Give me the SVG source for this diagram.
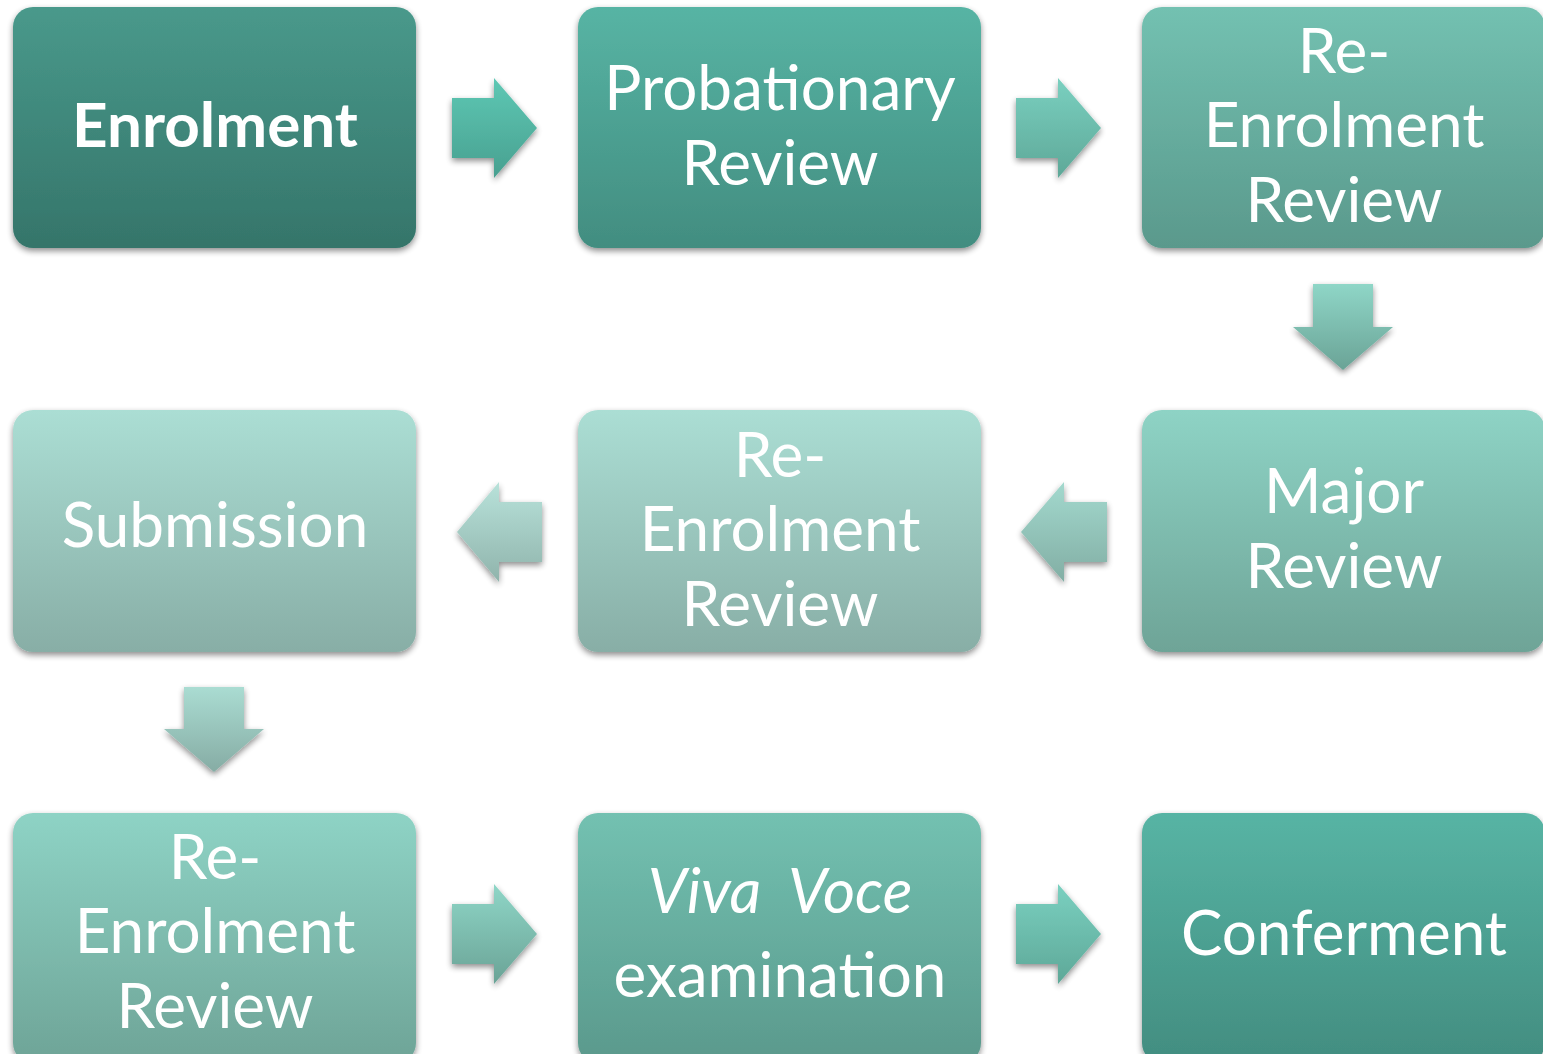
<svg xmlns="http://www.w3.org/2000/svg" width="1543" height="1054" viewBox="0 0 1543 1054">
<defs>
<linearGradient id="b1" x1="0" y1="0" x2="0" y2="1"><stop offset="0" stop-color="#49998b"/><stop offset="1" stop-color="#35756a"/></linearGradient>
<linearGradient id="b2" x1="0" y1="0" x2="0" y2="1"><stop offset="0" stop-color="#57b4a4"/><stop offset="1" stop-color="#428d80"/></linearGradient>
<linearGradient id="b3" x1="0" y1="0" x2="0" y2="1"><stop offset="0" stop-color="#73c1b1"/><stop offset="1" stop-color="#5a998c"/></linearGradient>
<linearGradient id="b4" x1="0" y1="0" x2="0" y2="1"><stop offset="0" stop-color="#8ed3c5"/><stop offset="1" stop-color="#6ea497"/></linearGradient>
<linearGradient id="b5" x1="0" y1="0" x2="0" y2="1"><stop offset="0" stop-color="#abded4"/><stop offset="1" stop-color="#88aea6"/></linearGradient>
<linearGradient id="a1" x1="0" y1="0" x2="0" y2="1"><stop offset="0" stop-color="#5ec8b4"/><stop offset="1" stop-color="#48a090"/></linearGradient>
<linearGradient id="a2" x1="0" y1="0" x2="0" y2="1"><stop offset="0" stop-color="#7ad0c0"/><stop offset="1" stop-color="#5ea898"/></linearGradient>
<linearGradient id="a3" x1="0" y1="0" x2="0" y2="1"><stop offset="0" stop-color="#8fd6c7"/><stop offset="1" stop-color="#6aa396"/></linearGradient>
<linearGradient id="a4" x1="0" y1="0" x2="0" y2="1"><stop offset="0" stop-color="#a3d9ce"/><stop offset="1" stop-color="#82aea4"/></linearGradient>
<linearGradient id="a5" x1="0" y1="0" x2="0" y2="1"><stop offset="0" stop-color="#b8e2da"/><stop offset="1" stop-color="#90b4ac"/></linearGradient>
<linearGradient id="a6" x1="0" y1="0" x2="0" y2="1"><stop offset="0" stop-color="#aadcd2"/><stop offset="1" stop-color="#86aca4"/></linearGradient>
<filter id="sh" x="-10%" y="-10%" width="120%" height="130%">
<feGaussianBlur in="SourceAlpha" stdDeviation="3"/>
<feOffset dx="0" dy="3" result="o"/>
<feComponentTransfer><feFuncA type="linear" slope="0.45"/></feComponentTransfer>
<feMerge><feMergeNode/><feMergeNode in="SourceGraphic"/></feMerge>
</filter>
</defs>
<style>
text{font-family:Lato,"Open Sans","Liberation Sans",sans-serif;font-size:62px;fill:#ffffff;text-anchor:middle}
.bold{font-weight:bold}
.it{font-style:italic}
rect,path{filter:url(#sh)}
</style>
<g id="connectors">
<path d="M452,98 H494 V78 L537,128 L494,178 V158 H452 Z" fill="url(#a1)"/>
<path d="M1016,98 H1058 V78 L1101,128 L1058,178 V158 H1016 Z" fill="url(#a2)"/>
<path d="M1313,284 V327 H1293 L1343,370 L1393,327 H1373 V284 Z" fill="url(#a3)"/>
<path d="M1107,502 H1064 V482 L1021,532 L1064,582 V562 H1107 Z" fill="url(#a4)"/>
<path d="M542,502 H499 V482 L457,532 L499,582 V562 H542 Z" fill="url(#a5)"/>
<path d="M184,687 V729 H164 L214,772 L264,729 H244 V687 Z" fill="url(#a6)"/>
<path d="M452,904 H494 V884 L537,934 L494,984 V964 H452 Z" fill="url(#a3)"/>
<path d="M1016,904 H1058 V884 L1101,934 L1058,984 V964 H1016 Z" fill="url(#a2)"/>
</g>
<g id="n1"><rect x="13" y="7" width="403" height="241" rx="20" fill="url(#b1)"/><text x="215" y="147" class="bold">Enrolment</text></g>
<g id="n2"><rect x="578" y="7" width="403" height="241" rx="20" fill="url(#b2)"/><text x="780" y="110">Probationary</text><text x="780" y="185">Review</text></g>
<g id="n3"><rect x="1142" y="7" width="403" height="241" rx="20" fill="url(#b3)"/><text x="1344" y="73">Re-</text><text x="1344" y="147">Enrolment</text><text x="1344" y="222">Review</text></g>
<g id="n4"><rect x="1142" y="410" width="403" height="242" rx="20" fill="url(#b4)"/><text x="1344" y="513">Major</text><text x="1344" y="588">Review</text></g>
<g id="n5"><rect x="578" y="410" width="403" height="242" rx="20" fill="url(#b5)"/><text x="780" y="477">Re-</text><text x="780" y="551">Enrolment</text><text x="780" y="626">Review</text></g>
<g id="n6"><rect x="13" y="410" width="403" height="242" rx="20" fill="url(#b5)"/><text x="215" y="547">Submission</text></g>
<g id="n7"><rect x="13" y="813" width="403" height="250" rx="20" fill="url(#b4)"/><text x="215" y="879">Re-</text><text x="215" y="953">Enrolment</text><text x="215" y="1028">Review</text></g>
<g id="n8"><rect x="578" y="813" width="403" height="250" rx="20" fill="url(#b3)"/><text x="780" y="913" class="it" xml:space="preserve">Viva  Voce</text><text x="780" y="997">examination</text></g>
<g id="n9"><rect x="1142" y="813" width="403" height="250" rx="20" fill="url(#b2)"/><text x="1344" y="955">Conferment</text></g>
</svg>
